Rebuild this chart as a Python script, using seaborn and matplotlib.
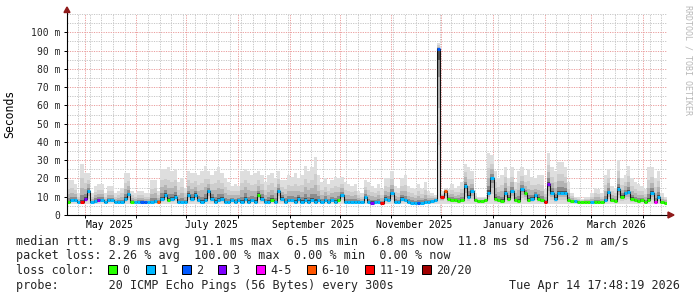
import numpy as np
import pandas as pd
import matplotlib
matplotlib.use("Agg")
import matplotlib.pyplot as plt
import matplotlib.dates as mdates
from matplotlib.patches import Rectangle, Polygon
from matplotlib.ticker import NullFormatter, MultipleLocator
import seaborn as sns

sns.set_style("white")
plt.rcParams["font.family"] = ["DejaVu Sans Mono"]

# ---------------- data ----------------
start = "2025-04-20 12:00"          # left edge of the time axis
bin_freq = "2D"                      # one value per 2-day step

# median RTT per step (ms)
median_ms = [
    7, 8, 8, 7, 7, 9, 13, 7, 7.5, 8,
    8, 7, 8, 8, 7, 7, 7, 9, 11.5, 7,
    7, 7, 7, 7, 7, 7, 7.5, 7, 9, 11,
    8, 9, 10, 7, 7, 7, 11, 9, 11, 8,
    7, 8, 13, 9, 7, 8, 9, 7, 7, 8,
    7, 8, 7, 9, 7, 8, 7, 11, 9, 7,
    7, 8, 7, 13, 9, 7, 8, 8, 7, 9,
    7, 8, 7, 8, 7, 8, 7, 8, 7, 8,
    7, 8, 11, 7, 7, 7, 7, 7, 7, 10,
    7, 6.8, 7, 7, 6.5, 9, 8, 12, 7, 7,
    9, 8, 7, 6.8, 6.5, 6.5, 6.8, 7, 7, 7.5,
    8, 91, 9.7, 13, 9, 8, 8, 7.5, 8, 16,
    10, 13, 8, 7.5, 7.5, 8, 12, 20, 9, 8,
    7.5, 12, 9, 13, 8, 7.5, 14, 12, 8, 9,
    11, 9, 8, 7, 17, 12, 9, 12, 12, 12,
    8, 7.5, 7.5, 7, 7, 7, 7, 7, 7, 7,
    7, 8, 12.5, 8, 7.5, 14, 10, 12, 12.5, 9,
    8, 7.5, 8, 7, 8, 12, 7, 10, 7, 6.8,
]

# top of the smoke (max RTT) per step (ms)
smoke_max_ms = [
    19, 19, 17, 12, 28, 23, 23, 12, 16, 17,
    17, 12, 16, 16, 12, 13, 15, 23, 23, 13,
    12, 13, 13, 12, 12, 19, 19, 13, 25, 25,
    26, 24, 25, 18, 20, 15, 24, 23, 23, 22,
    24, 27, 24, 22, 24, 26, 23, 20, 18, 16,
    17, 16, 24, 25, 24, 22, 23, 24, 22, 18,
    22, 23, 20, 24, 19, 19, 22, 21, 23, 20,
    22, 27, 24, 26, 32, 22, 18, 20, 17, 19,
    21, 20, 21, 18, 17, 16, 17, 13, 12, 19,
    18, 16, 15, 17, 14, 20, 20, 24, 16, 15,
    20, 22, 16, 15, 14, 17, 14, 18, 13, 12,
    11, 94, 13, 15, 14, 17, 15, 16, 18, 28,
    26, 24, 12, 10, 10, 10, 34, 33, 24, 20,
    22, 26, 20, 26, 18, 24, 26, 22, 25, 21,
    20, 22, 22, 14, 34, 26, 24, 29, 29, 26,
    18, 12, 10, 10, 9, 10, 10, 12, 15, 14,
    12, 22, 25, 16, 15, 30, 20, 22, 27, 20,
    18, 17, 16, 14, 26, 26, 20, 24, 12, 10,
]

# loss class per step (index into loss_labels)
loss_idx = [
    0, 1, 1, 1, 6, 3, 1, 1, 1, 3,
    1, 1, 1, 1, 1, 1, 1, 1, 1, 0,
    1, 1, 2, 2, 1, 1, 1, 5, 1, 1,
    0, 1, 1, 1, 1, 1, 1, 1, 1, 1,
    1, 1, 1, 1, 1, 1, 1, 1, 1, 1,
    1, 1, 1, 1, 1, 1, 1, 0, 1, 1,
    1, 0, 1, 1, 1, 1, 1, 1, 1, 1,
    1, 1, 1, 1, 1, 1, 1, 1, 1, 1,
    1, 0, 1, 1, 1, 1, 1, 1, 1, 1,
    1, 3, 1, 1, 6, 1, 1, 1, 1, 1,
    1, 1, 1, 1, 1, 2, 1, 1, 1, 1,
    1, 2, 6, 5, 0, 0, 0, 0, 0, 1,
    1, 1, 0, 0, 0, 0, 1, 1, 0, 0,
    0, 1, 0, 1, 0, 0, 1, 0, 0, 1,
    1, 0, 0, 6, 3, 1, 1, 1, 1, 1,
    0, 0, 1, 0, 0, 0, 0, 1, 0, 0,
    0, 1, 1, 0, 0, 1, 0, 1, 1, 0,
    0, 0, 0, 0, 0, 1, 4, 1, 0, 0,
]

loss_labels = ["0", "1", "2", "3", "4-5", "6-10", "11-19", "20/20"]
loss_colors = ["#26ff00", "#00b8ff", "#0059ff", "#7e00ff",
               "#ff00ff", "#ff5500", "#ff0000", "#a00000"]

ytick_vals = [0, 10, 20, 30, 40, 50, 60, 70, 80, 90, 100]
ytick_labels = ["0", "10 m", "20 m", "30 m", "40 m", "50 m",
                "60 m", "70 m", "80 m", "90 m", "100 m"]

month_labels = ["May 2025", "July 2025", "September 2025",
                "November 2025", "January 2026", "March 2026"]
month_label_dates = ["2025-05-16", "2025-07-16", "2025-09-15",
                     "2025-11-15", "2026-01-16", "2026-03-16"]

stats_rtt = "median rtt:  8.9 ms avg  91.1 ms max  6.5 ms min  6.8 ms now  11.8 ms sd  756.2 m am/s"
stats_loss = "packet loss: 2.26 % avg  100.00 % max  0.00 % min  0.00 % now"
probe_text = "probe:       20 ICMP Echo Pings (56 Bytes) every 300s"
stamp_text = "Tue Apr 14 17:48:19 2026"
rtt_floor = 6.2

# ---------------- figure ----------------
W, H = 697, 297
fig = plt.figure(figsize=(W / 100, H / 100), dpi=100)
fig.patch.set_facecolor("white")
ax = fig.add_axes([67 / W, 1 - 215 / H, 600 / W, 201 / H])
ax.set_facecolor("white")

n = len(median_ms)
edges = pd.date_range(start, periods=n + 1, freq=bin_freq)
xe = mdates.date2num(edges.to_pydatetime())
med = np.array(median_ms, dtype=float)
top = np.array(smoke_max_ms, dtype=float)

# smoke: shaded bands, dark close to the median, light at the extremes
shades = [(1.00, "#dedede"), (0.62, "#cdcdcd"), (0.38, "#b4b4b4"),
          (0.18, "#8c8c8c"), (0.07, "#505050")]
for frac, col in shades:
    upper = med + frac * (top - med)
    lower = med - frac * (med - rtt_floor)
    ax.fill_between(xe, np.append(lower, lower[-1]), np.append(upper, upper[-1]),
                    step="post", color=col, linewidth=0, zorder=1)

# median line (dark) with loss-coloured segments on top
sns.lineplot(x=xe, y=np.append(med, med[-1]), drawstyle="steps-post",
             color="#111111", linewidth=0.75, ax=ax, zorder=3)
ax.hlines(med, xe[:-1], xe[1:], colors=[loss_colors[i] for i in loss_idx],
          linewidth=2.2, zorder=4, capstyle="butt")

ax.set_xlim(xe[0], xe[-1])
ax.set_ylim(0, 110)

# grid
ax.xaxis.set_major_locator(mdates.MonthLocator())
ax.xaxis.set_minor_locator(mdates.WeekdayLocator(byweekday=mdates.SU))
ax.xaxis.set_major_formatter(NullFormatter())
ax.set_yticks(ytick_vals, ytick_labels)
ax.yaxis.set_minor_locator(MultipleLocator(5))
ax.grid(which="minor", color="#c8c8c8", linestyle=(0, (1.2, 1.2)), linewidth=0.72)
ax.grid(which="major", color="#eba0a0", linestyle=(0, (1.2, 1.2)), linewidth=0.72)
for a in ax.get_xgridlines() + ax.get_ygridlines() + \
        ax.xaxis.get_minorticklines() + ax.yaxis.get_minorticklines():
    a.set_zorder(2)
ax.set_axisbelow(True)

ax.tick_params(axis="y", which="major", length=2, width=0.72, pad=3,
               labelsize=7, color="black", left=True)
ax.tick_params(axis="y", which="minor", length=0)
ax.tick_params(axis="x", which="major", length=2, width=0.72, color="black", bottom=True)
ax.tick_params(axis="x", which="minor", length=0)
ax.set_xlabel("")
ax.set_ylabel("")

for s in ["top", "right", "left", "bottom"]:
    ax.spines[s].set_visible(False)

# axes lines with arrows
ax.plot([0, 0], [0, 1 + 5 / 201], transform=ax.transAxes, color="black",
        lw=0.8, clip_on=False, zorder=6)
ax.plot([0, 1 + 4 / 600], [0, 0], transform=ax.transAxes, color="black",
        lw=0.8, clip_on=False, zorder=6)
arrow_col = "#8f1a1a"
fig.add_artist(Polygon([(64 / W, 1 - 12.5 / H), (70 / W, 1 - 12.5 / H), (67 / W, 1 - 7 / H)],
                       closed=True, transform=fig.transFigure, color=arrow_col))
fig.add_artist(Polygon([(668 / W, 1 - 212 / H), (668 / W, 1 - 218 / H), (674 / W, 1 - 215 / H)],
                       closed=True, transform=fig.transFigure, color=arrow_col))

# month labels
for lab, d in zip(month_labels, month_label_dates):
    ax.text(mdates.date2num(pd.Timestamp(d).to_pydatetime()), -10.5 / 201, lab,
            transform=ax.get_xaxis_transform(), ha="center", va="center",
            fontsize=7, color="black")

# unit label
fig.text(10 / W, 1 - 114 / H, "Seconds", rotation=90, ha="center", va="center",
         fontsize=8.3, color="black")

# watermark
fig.text(688 / W, 1 - 5 / H, "RRDTOOL / TOBI OETIKER", rotation=-90,
         ha="center", va="top", fontsize=6, color="#b8b8b8")

# legend / statistics
fs = 8.5
fig.text(16 / W, 1 - 241 / H, stats_rtt, ha="left", va="center", fontsize=fs)
fig.text(16 / W, 1 - 256 / H, stats_loss, ha="left", va="center", fontsize=fs)
fig.text(16 / W, 1 - 270 / H, "loss color:", ha="left", va="center", fontsize=fs)
box_x = [108, 146, 182, 218, 256, 307, 365, 422]
for bx, lab, col in zip(box_x, loss_labels, loss_colors):
    fig.add_artist(Rectangle((bx / W, 1 - 274 / H), 8.5 / W, 9 / H,
                             transform=fig.transFigure, facecolor=col,
                             edgecolor="black", linewidth=0.72))
    fig.text((bx + 14.5) / W, 1 - 270 / H, lab, ha="left", va="center", fontsize=fs)
fig.text(16 / W, 1 - 285 / H, probe_text, ha="left", va="center", fontsize=fs)
fig.text(680 / W, 1 - 285 / H, stamp_text, ha="right", va="center", fontsize=fs)

fig.savefig("out.png", dpi=100)
